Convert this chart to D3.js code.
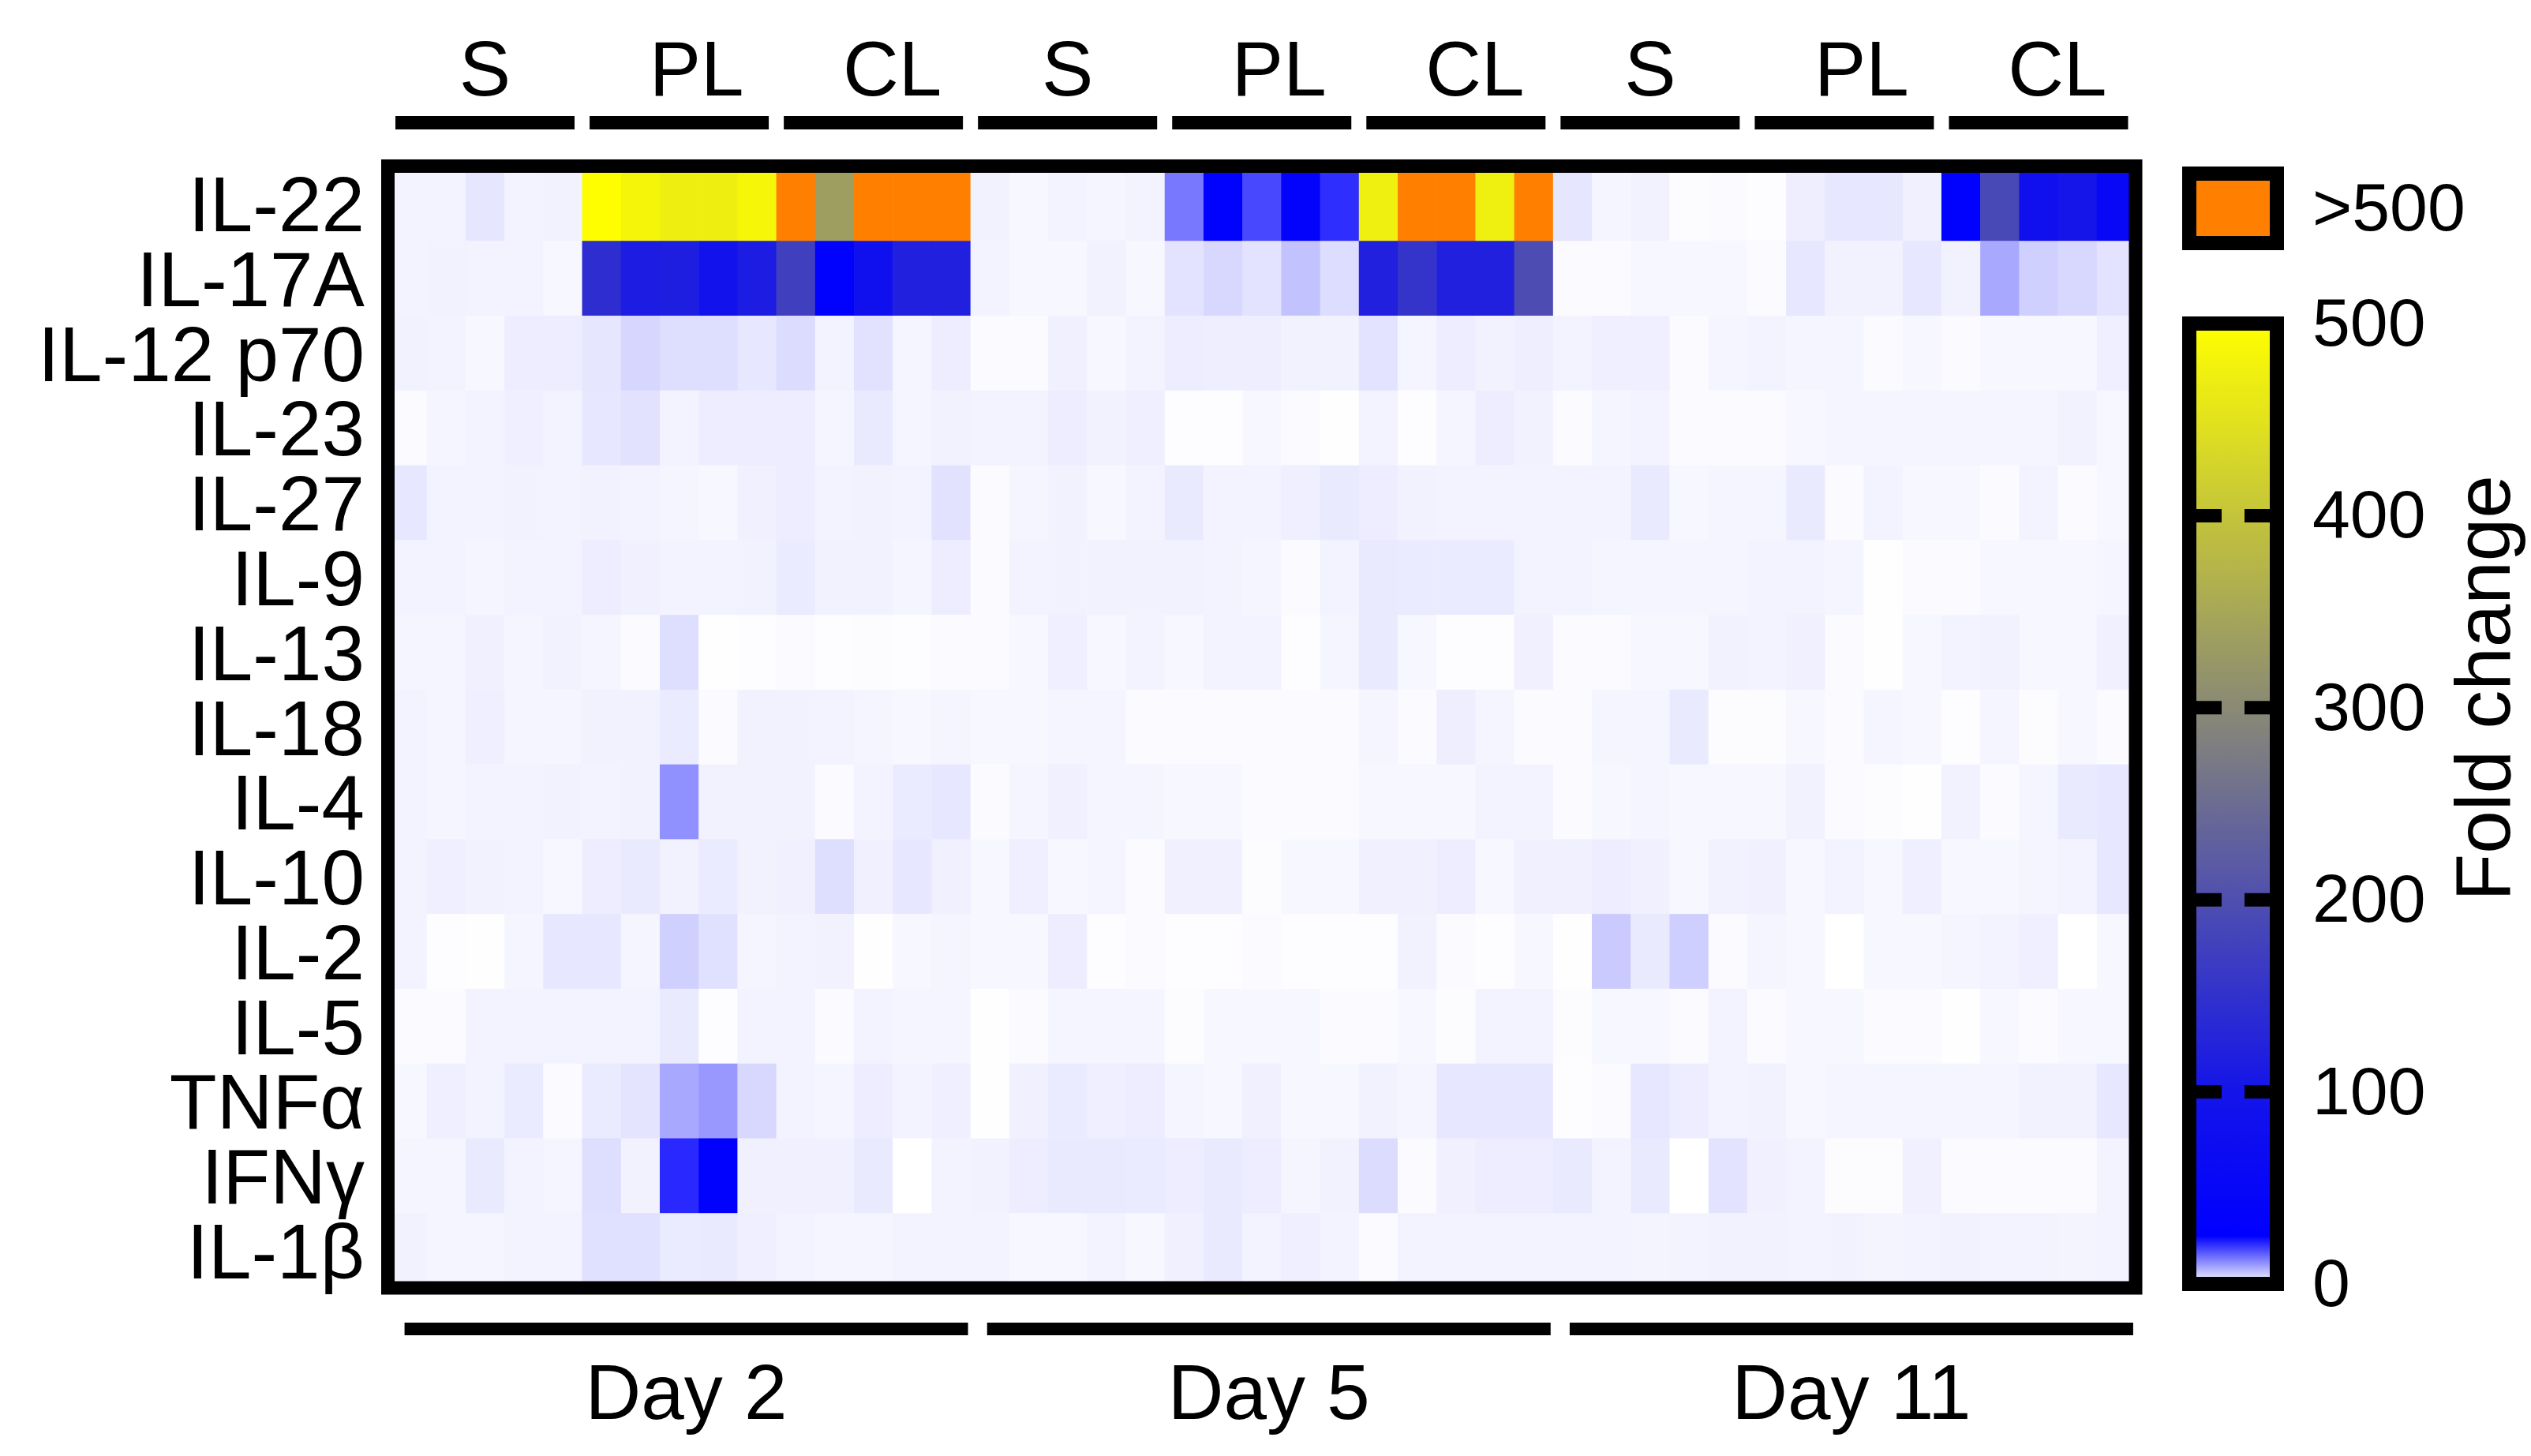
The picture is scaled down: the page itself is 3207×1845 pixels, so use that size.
<!DOCTYPE html>
<html>
<head>
<meta charset="utf-8">
<script src="https://d3js.org/d3.v7.min.js"></script>
<style>
  body { margin: 0; background: #fff; }
  text { font-family: "Liberation Sans", Arial, Helvetica, sans-serif; fill: #000; }
</style>
</head>
<body>
<div id="chart"></div>
<script>

// ---- data: fold change per cytokine, 45 columns (Day 2 / Day 5 / Day 11 x S, PL, CL x 5 mice)
const days = ["Day 2", "Day 5", "Day 11"];
const groups = ["S", "PL", "CL"];
const replicates = [1, 2, 3, 4, 5];
const colorTicks = [0, 100, 200, 300, 400, 500];
const overLabel = ">500";

const il22  = [1.2,1.2,2.5,1.2,1.3, 498,483,471,471,485, 650,335,650,650,650,
               1.3,0.8,1.2,1,1.2, 13.2,28,17.9,35,20.5, 473,650,650,473,650,
               2.5,1,1.3,0.3,0.5, 0.2,1.7,2.4,2.4,1.5, 30,188,85,102,55];
const il17a = [1.2,1.3,1.2,1.2,0.8, 144,114,117,92,114, 175,30,85,120,120,
               1.2,0.8,0.8,1.3,0.8, 2.7,3.8,2.7,6,3.3, 120,154,120,120,195,
               0.5,0.5,0.8,0.8,0.8, 0.5,2.4,1.3,1.3,2.4, 1.3,8.5,4.6,3.8,2.7];
const il12  = [1.3,1.2,0.8,1.8,1.8, 2.5,4,3.2,3.2,2.4, 3.4,1.2,2.8,1,1.8,
               0.5,0.5,1.5,0.8,1.2, 1.8,1.7,1.7,1.3,1.3, 2.7,1,1.8,1.3,1.7,
               1.2,1.6,1.6,0.5,1, 1.2,1,1,0.5,0.8, 0.5,0.8,0.8,0.8,1.6];
const il23  = [0.5,1,1.2,1.6,1.2, 2.4,2.8,1.2,1.8,1.8, 1.8,1,2.1,1,1.3,
               1.2,1.2,1.8,1.3,1.6, 0.2,0.2,0.8,0.5,0.1, 1.2,0.2,1,1.8,1.3,
               0.5,1,1.2,0.5,0.5, 0.5,0.8,1,1,1, 1,1,1,1.3,0.8];
const il27  = [2.4,1.2,1.2,1.3,1.2, 1.3,1.2,1,0.8,1.5, 1.8,1.2,1.3,1.2,2.8,
               0.5,1,1.3,0.8,1.2, 2.1,1.2,1.2,1.6,2.1, 1.8,1.3,1.2,1.2,1.2,
               1.2,1.2,2.1,0.8,1, 1,2.1,0.5,1.2,0.8, 0.8,0.4,1.2,0.5,0.8];
const il9   = [1.2,1.2,1,1.2,1.2, 1.8,1.5,1.2,1.2,1.3, 2,1.3,1.3,1,1.8,
               0.5,1.2,1.3,1.3,1.3, 1.3,1.2,1,0.5,1.2, 2.1,2,2,2,1.2,
               1.2,1,1,1,1, 1.2,1.2,1,0.1,0.5, 0.5,0.8,0.8,0.8,1];
const il13  = [1,1,1.5,1,1.3, 1,0.5,3.2,0.1,0.2, 0.5,0.2,0.3,0.2,0.5,
               0.5,0.8,1.6,0.8,1.2, 0.8,1.2,1.2,0.2,1, 2.1,0.8,0.2,0.2,1.5,
               0.5,0.5,0.8,0.8,1.3, 1.2,1.5,0.5,0.1,0.8, 1.2,1.3,0.8,0.8,1.5];
const il18  = [1.2,1,1.6,1,1, 1.3,1.3,2,0.5,1.3, 1.3,1.2,1,0.8,1,
               0.8,0.8,1,1,0.5, 0.5,0.5,0.5,0.5,0.5, 1,0.5,1.7,1,0.5,
               0.5,1,1,2.1,0.3, 0.3,0.8,0.5,1,0.8, 0.2,1,0.3,0.8,0.5];
const il4   = [1.2,1,1.2,1.2,1.3, 1.2,1.3,10.9,1.3,1.3, 1.3,0.5,1.2,2,2.4,
               0.5,1,1.5,1,1, 0.8,0.8,0.5,0.5,0.5, 0.8,0.8,0.8,1.2,1.2,
               0.5,0.8,1,0.8,0.8, 0.8,1.3,0.5,0.3,0.1, 1.3,0.5,1,2.1,2.4];
const il10  = [1.2,1.6,1.3,1.2,0.8, 1.8,2.1,1.3,2,1.3, 1.5,3.2,1.5,2.4,1.5,
               0.8,1.6,0.8,1,0.5, 1.5,1.5,0.3,0.8,0.8, 1.5,1.5,1.8,0.8,1.5,
               1.5,1.8,1.5,0.8,1.3, 1.5,0.8,1.2,0.8,1.6, 0.8,0.8,1,1.2,2.4];
const il2   = [1.2,0.2,0.1,1,2.4, 2.4,1,4.6,3,1, 1.2,1.3,0.1,0.8,1,
               0.8,0.8,1.8,0.2,0.5, 0.2,0.2,0.5,0.2,0.2, 0.2,1.3,0.5,0.2,0.8,
               0.1,5.2,2.1,4.8,0.5, 1,0.8,0,0.8,0.8, 1,1.2,1.6,0,0.8];
const il5   = [0.5,0.5,1.2,1.2,1.2, 1.2,1.2,2.1,0.2,1.2, 1.2,0.5,1.2,1,1,
               0.1,0.5,1,1,1, 0.3,0.8,0.8,0.8,0.5, 0.5,0.8,0.3,1.2,1.2,
               0.3,0.8,0.8,0.5,1.2, 0.5,0.8,0.8,0.5,0.5, 0.1,0.8,0.5,0.8,0.8];
const tnfa  = [0.8,1.6,1.2,2,0.5, 2,2.6,8.5,10.1,3.8, 1.2,1,1.8,1.2,1.6,
               0.1,1.5,2,1.6,1.8, 1,0.8,1.5,0.8,0.8, 1.3,1,2.4,2.4,2.4,
               0.2,0.5,2.4,1.8,1.2, 1.3,0.8,1,1,1, 1,1,1.3,1.3,2.4];
const ifng  = [1,1,2.1,1.2,1, 3.2,1.3,21,30,1.5, 1.5,1.5,2.1,0,1.2,
               1.3,1.8,2.1,2.1,2, 1.8,2.1,1.8,1,1.3, 3.4,0.5,1.5,1.8,1.8,
               2.1,1.2,2.1,0,2.7, 1.5,1.2,0.3,0.3,1.5, 0.5,0.5,0.5,0.5,1.2];
const il1b  = [1.3,1,1,1.2,1.2, 3,3,2,2.1,1.6, 1.2,1,1,1.2,1.2,
               1.2,0.8,0.8,1.2,0.8, 1.5,2.1,1.2,1.6,1.2, 0.5,1.2,1.2,1.2,1.2,
               1.2,1.2,1.1,1.2,1.3, 1.3,1.2,1.3,1.1,1.2, 1.3,1.2,1.2,1.1,1.2];

const cytokines = ["IL-22", "IL-17A", "IL-12 p70", "IL-23", "IL-27", "IL-9", "IL-13", "IL-18",
                   "IL-4", "IL-10", "IL-2", "IL-5", "TNFα", "IFNγ", "IL-1β"];
const rowValues = [il22, il17a, il12, il23, il27, il9, il13, il18, il4, il10, il2, il5, tnfa, ifng, il1b];

/**
 * Constructor for the cytokine heatmap
 */
function CytokineHeatmap(){
    var self = this;
    self.init();
};

/**
 * Sets up the svg and the layout numbers
 */
CytokineHeatmap.prototype.init = function(){
    var self = this;
    self.svgWidth = 3207;
    self.svgHeight = 1845;
    self.grid = {left: 491.5, right: 2706, top: 210.5, bottom: 1632};
    self.border = 17;
    self.fontSize = 98;
    self.tickFont = 86;

    self.svg = d3.select("#chart").append("svg")
        .attr("width", self.svgWidth)
        .attr("height", self.svgHeight)
        .style("display", "block");

    // 0 -> white, ~25 -> blue, then blue -> yellow up to 500; above that orange
    self.colorScale = d3.scaleLinear()
        .domain([0, 25, 100, 500])
        .range(["#ffffff", "#0000ff", "#1414ea", "#ffff00"])
        .clamp(true);
    self.overColor = "#ff8000";
};

CytokineHeatmap.prototype.cellColor = function(v){
    var self = this;
    if (v > 500){
        return self.overColor;
    }
    return self.colorScale(v);
};

/**
 * Draws cells, labels, group bars and the color legend
 */
CytokineHeatmap.prototype.update = function(){
    var self = this;
    var g = self.grid;

    let columns = [];
    days.forEach(d => groups.forEach(gr => replicates.forEach(r => columns.push(d + "|" + gr + "|" + r))));
    let groupKeys = [];
    days.forEach(d => groups.forEach(gr => groupKeys.push(d + "|" + gr)));

    let xScale = d3.scaleBand().domain(columns).range([g.left, g.right]);
    let yScale = d3.scaleBand().domain(cytokines).range([g.top, g.bottom]);
    let groupScale = d3.scaleBand().domain(groupKeys).range([g.left, g.right]);
    let dayScale = d3.scaleBand().domain(days).range([g.left, g.right]);

    let cells = [];
    cytokines.forEach(function(name, i){
        rowValues[i].forEach(function(v, j){
            cells.push({row: name, col: columns[j], value: v});
        });
    });

    // cells, a bit oversized so no seams show
    self.svg.append("g").selectAll("rect")
        .data(cells)
        .enter()
        .append("rect")
        .attr("x", d => xScale(d.col))
        .attr("y", d => yScale(d.row))
        .attr("width", xScale.bandwidth() + 0.6)
        .attr("height", yScale.bandwidth() + 0.6)
        .attr("fill", d => self.cellColor(d.value));

    // frame
    self.svg.append("rect")
        .attr("x", g.left)
        .attr("y", g.top)
        .attr("width", g.right - g.left)
        .attr("height", g.bottom - g.top)
        .attr("fill", "none")
        .attr("stroke", "#000")
        .attr("stroke-width", self.border);

    // row labels
    self.svg.append("g").selectAll("text")
        .data(cytokines)
        .enter()
        .append("text")
        .attr("x", 462)
        .attr("y", d => yScale(d) + yScale.bandwidth() / 2)
        .attr("dy", "0.36em")
        .attr("text-anchor", "end")
        .style("font-size", self.fontSize + "px")
        .text(d => d);

    // group bars on top
    let barW = 227;
    let labelShift = {"S": 0, "PL": 22, "CL": 24};
    self.svg.append("g").selectAll("rect")
        .data(groupKeys)
        .enter()
        .append("rect")
        .attr("x", d => groupScale(d) + groupScale.bandwidth() / 2 - barW / 2)
        .attr("y", 147)
        .attr("width", barW)
        .attr("height", 17)
        .attr("fill", "#000");

    self.svg.append("g").selectAll("text")
        .data(groupKeys)
        .enter()
        .append("text")
        .attr("x", d => groupScale(d) + groupScale.bandwidth() / 2 + labelShift[d.split("|")[1]])
        .attr("y", 121)
        .attr("text-anchor", "middle")
        .style("font-size", self.fontSize + "px")
        .text(d => d.split("|")[1]);

    // day bars at the bottom
    let dayW = 714;
    self.svg.append("g").selectAll("rect")
        .data(days)
        .enter()
        .append("rect")
        .attr("x", d => dayScale(d) + dayScale.bandwidth() / 2 + 9 - dayW / 2)
        .attr("y", 1676)
        .attr("width", dayW)
        .attr("height", 16)
        .attr("fill", "#000");

    self.svg.append("g").selectAll("text")
        .data(days)
        .enter()
        .append("text")
        .attr("x", d => dayScale(d) + dayScale.bandwidth() / 2 + 9)
        .attr("y", 1798)
        .attr("text-anchor", "middle")
        .style("font-size", self.fontSize + "px")
        .text(d => d);

    self.drawLegend();
};

/**
 * Color bar with the >500 swatch
 */
CytokineHeatmap.prototype.drawLegend = function(){
    var self = this;
    let cbX = 2774, cbW = 111;
    let cbScale = d3.scaleLinear().domain([0, 500]).range([1627, 410]);

    let defs = self.svg.append("defs");
    let grad = defs.append("linearGradient")
        .attr("id", "foldGrad")
        .attr("gradientUnits", "userSpaceOnUse")
        .attr("x1", 0).attr("x2", 0)
        .attr("y1", cbScale(0)).attr("y2", cbScale(500));
    grad.selectAll("stop")
        .data(d3.range(0, 501, 5))
        .enter()
        .append("stop")
        .attr("offset", d => d / 500)
        .attr("stop-color", d => self.colorScale(d));

    self.svg.append("rect")
        .attr("x", cbX)
        .attr("y", cbScale(500))
        .attr("width", cbW)
        .attr("height", cbScale(0) - cbScale(500))
        .attr("fill", "url(#foldGrad)")
        .attr("stroke", "#000")
        .attr("stroke-width", 18);

    // little dashes at the inner ticks
    let inner = colorTicks.filter(d => d > 0 && d < 500);
    let tickLen = 41;
    self.svg.append("g").selectAll("line")
        .data(inner)
        .enter()
        .append("line")
        .attr("x1", cbX).attr("x2", cbX + tickLen)
        .attr("y1", d => cbScale(d)).attr("y2", d => cbScale(d))
        .attr("stroke", "#000").attr("stroke-width", 17);
    self.svg.append("g").selectAll("line")
        .data(inner)
        .enter()
        .append("line")
        .attr("x1", cbX + cbW - tickLen).attr("x2", cbX + cbW)
        .attr("y1", d => cbScale(d)).attr("y2", d => cbScale(d))
        .attr("stroke", "#000").attr("stroke-width", 17);

    let axis = d3.axisRight(cbScale).tickValues(colorTicks).tickSize(0).tickPadding(45);
    let ax = self.svg.append("g")
        .attr("transform", "translate(" + (cbX + cbW) + ",0)")
        .call(axis);
    ax.select(".domain").remove();
    ax.selectAll("text")
        .attr("font-family", null)
        .style("font-size", self.tickFont + "px");
    ax.attr("font-size", null).attr("font-family", null);

    // >500 swatch
    self.svg.append("rect")
        .attr("x", cbX)
        .attr("y", 220)
        .attr("width", cbW)
        .attr("height", 88)
        .attr("fill", self.overColor)
        .attr("stroke", "#000")
        .attr("stroke-width", 18);

    self.svg.append("text")
        .attr("x", cbX + cbW + 45)
        .attr("y", 264)
        .attr("dy", "0.32em")
        .style("font-size", self.tickFont + "px")
        .text(overLabel);

    self.svg.append("text")
        .attr("transform", "translate(3180,872) rotate(-90)")
        .attr("text-anchor", "middle")
        .style("font-size", self.fontSize + "px")
        .text("Fold change");
};

var chart = new CytokineHeatmap();
chart.update();
</script>
</body>
</html>
